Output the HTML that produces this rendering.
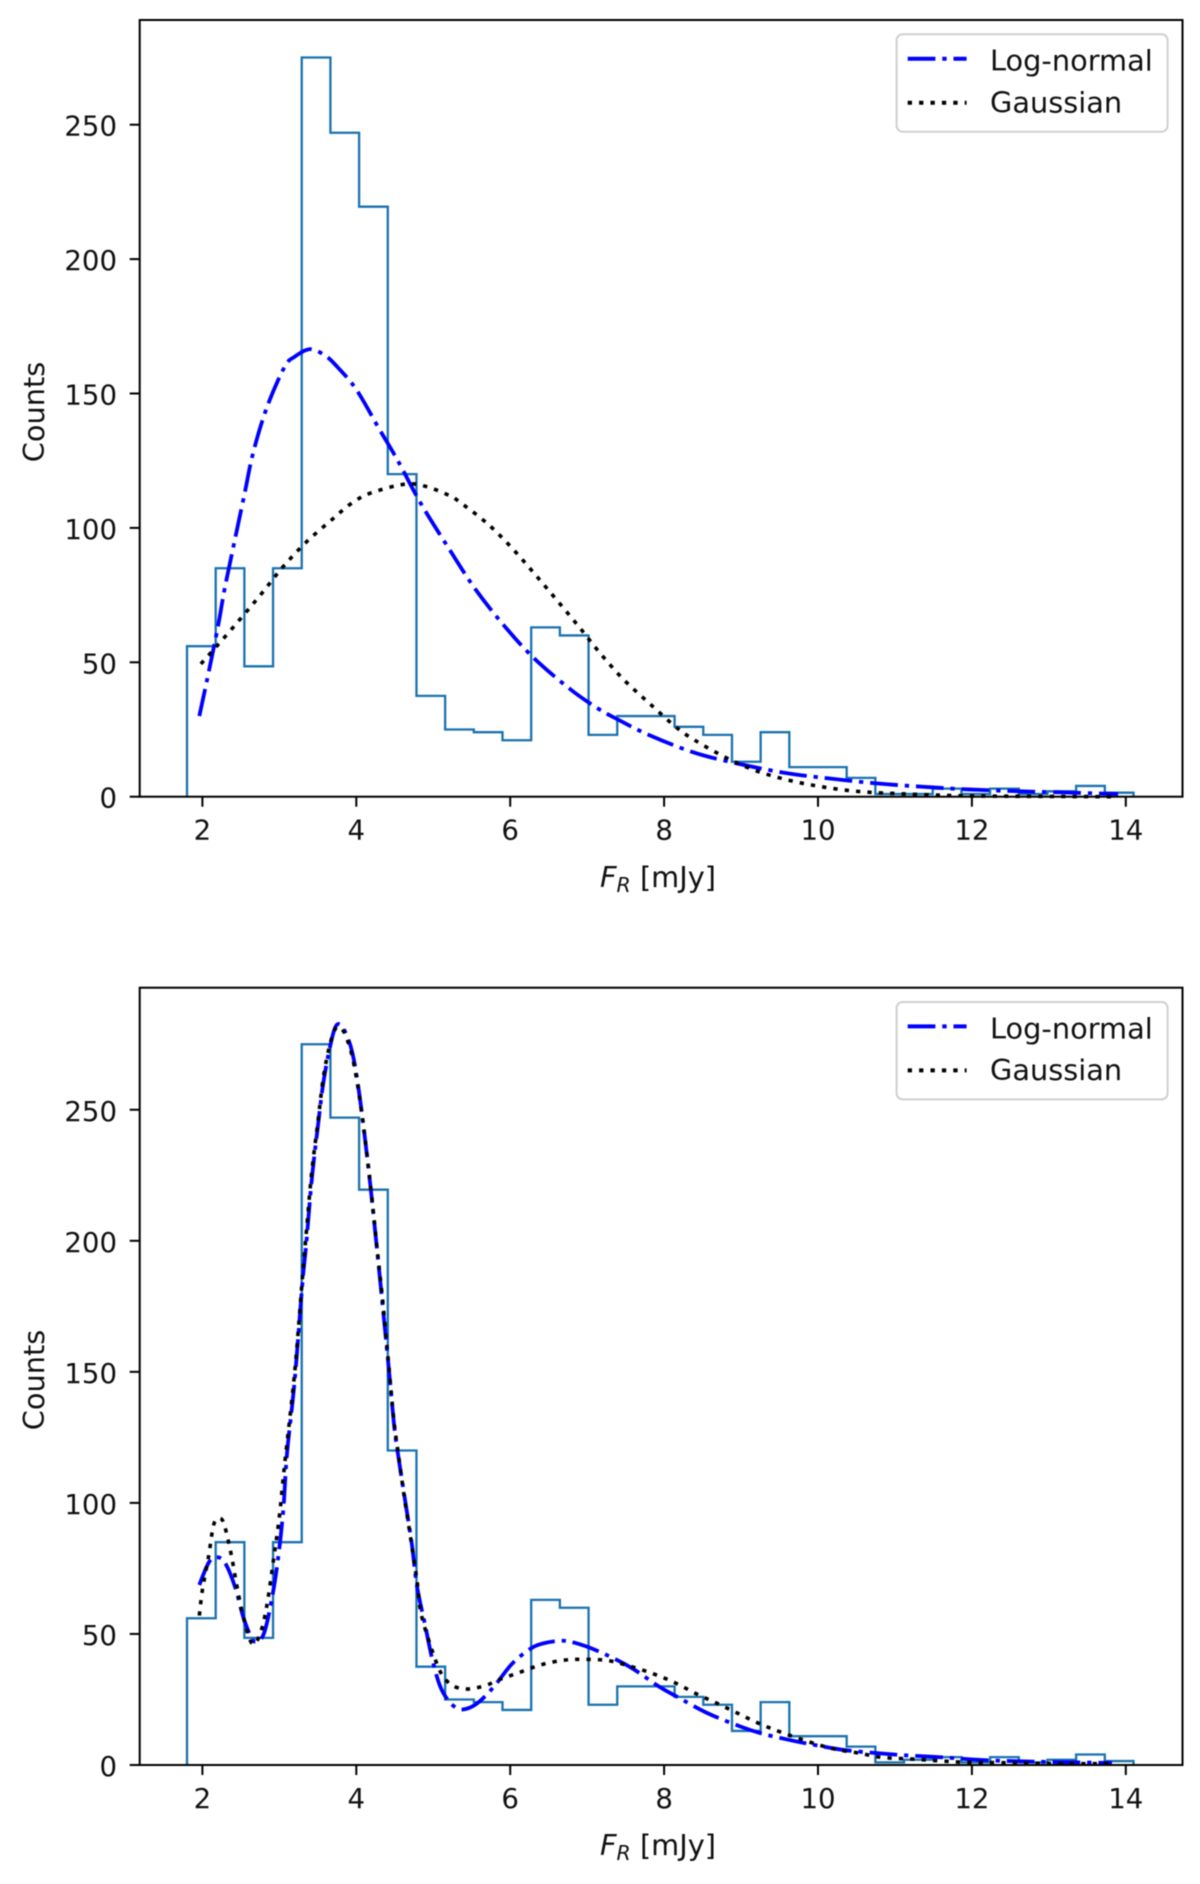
<!DOCTYPE html>
<html lang="en">
<head>
<meta charset="utf-8">
<title>Flux density histograms</title>
<style>
html,body{margin:0;padding:0;background:#fff;width:1200px;height:1884px;overflow:hidden}
svg{display:block;filter:blur(0.4px)}
text{font-family:"DejaVu Sans","Liberation Sans",sans-serif;font-size:27.6px;fill:#111}
.big{font-size:28.8px}
</style>
</head>
<body>
<svg id="figure" xmlns="http://www.w3.org/2000/svg" width="1200" height="1884" viewBox="0 0 1200 1884">
  <rect x="0" y="0" width="1200" height="1884" fill="#fff"/>
  <g id="panel-top"></g>
  <g id="panel-bottom"></g>

  <g>
    <text class="big" transform="translate(44,412) rotate(-90)" text-anchor="middle">Counts</text>
    <text class="big" x="658" y="887" text-anchor="middle"><tspan font-style="italic">F</tspan><tspan font-style="italic" font-size="20.5" dy="5">R</tspan><tspan dy="-5"> [mJy]</tspan></text>
  </g>
  <g>
    <text class="big" transform="translate(44,1380) rotate(-90)" text-anchor="middle">Counts</text>
    <text class="big" x="658" y="1855" text-anchor="middle"><tspan font-style="italic">F</tspan><tspan font-style="italic" font-size="20.5" dy="5">R</tspan><tspan dy="-5"> [mJy]</tspan></text>
  </g>

  <g>
    <rect x="896.6" y="34.3" width="271" height="97.4" rx="6" fill="#fff" stroke="#d0d0d0" stroke-width="2"/>
    <line x1="907.7" y1="58.7" x2="966.6" y2="58.7" stroke="#0000ff" stroke-width="4" stroke-dasharray="27.7 6.9 4.3 6.9"/>
    <text class="big" x="990" y="70.7">Log-normal</text>
    <line x1="907.7" y1="102.7" x2="966.6" y2="102.7" stroke="#000" stroke-width="4" stroke-dasharray="4.3 7.1"/>
    <text class="big" x="990" y="112.5">Gaussian</text>
  </g>
  <g>
    <rect x="896.6" y="1002" width="271" height="97.4" rx="6" fill="#fff" stroke="#d0d0d0" stroke-width="2"/>
    <line x1="907.7" y1="1026.4" x2="966.6" y2="1026.4" stroke="#0000ff" stroke-width="4" stroke-dasharray="27.7 6.9 4.3 6.9"/>
    <text class="big" x="990" y="1038.4">Log-normal</text>
    <line x1="907.7" y1="1070.4" x2="966.6" y2="1070.4" stroke="#000" stroke-width="4" stroke-dasharray="4.3 7.1"/>
    <text class="big" x="990" y="1080.2">Gaussian</text>
  </g>
</svg>
<script>
// ---- shared axis data ----
const xTickValues = [2, 4, 6, 8, 10, 12, 14];
const yTickValues = [0, 50, 100, 150, 200, 250];
const binFirstEdge = 1.8;
const binLastEdge = 14.1;

// ---- histogram counts ----
const topHistCounts = [56, 85, 48.5, 85, 275, 247, 219.5, 120, 37.5, 25, 24, 21, 63, 60, 23, 30, 30, 26, 23, 13, 24, 11, 11, 7, 1, 1, 3, 1, 3, 1, 2, 4, 1.5];
const bottomHistCounts = [56, 85, 48.5, 85, 275, 247, 219.5, 120, 37.5, 25, 24, 21, 63, 60, 23, 30, 30, 26, 23, 13, 24, 11, 11, 7, 1, 2, 3, 1, 3, 1, 2, 4, 1.5];

// ---- top panel fits ----
const topLogNormalFlux = [1.96, 2.06, 2.2, 2.29, 2.41, 2.55, 2.66, 2.84, 3.07, 3.2, 3.4, 3.6, 3.75, 4.0, 4.3, 4.54, 4.84, 5.21, 5.54, 5.91, 6.31, 6.78, 7.13, 7.38, 7.8, 8.36, 8.85, 9.54, 10.14, 10.74, 11.36, 11.96, 12.63, 13.17, 13.67, 13.9];
const topLogNormalCounts = [30, 43.4, 63, 77.5, 94, 113, 128, 145, 160, 163.7, 166.5, 164, 160, 151.5, 136.7, 125, 109, 92, 77.5, 64, 51.5, 40, 33, 29, 23, 16.7, 13, 9, 6.8, 5, 3.7, 2.7, 2, 1.6, 1.2, 1];
const topGaussianFlux = [1.98, 2.18, 2.48, 2.77, 3.05, 3.36, 3.7, 3.93, 4.19, 4.64, 4.92, 5.22, 5.34, 5.7, 6.02, 6.32, 6.61, 6.9, 7.18, 7.48, 7.81, 8.15, 8.4, 8.8, 9.19, 9.64, 10.09, 10.54, 10.99, 11.43, 12.13, 13.82];
const topGaussianCounts = [49.4, 55.8, 65.7, 75.6, 85.6, 95, 103.5, 109, 113, 116.3, 115.3, 111.9, 109.7, 101.7, 92.6, 82.8, 73, 63, 53, 43.4, 34.7, 26, 21, 14.6, 9.7, 6, 3.5, 1.9, 1.2, 0.7, 0.25, 0];

// ---- bottom panel fits ----
const bottomLogNormalFlux = [1.96, 2.09, 2.21, 2.31, 2.43, 2.53, 2.63, 2.7, 2.8, 2.9, 2.98, 3.05, 3.1, 3.2, 3.3, 3.35, 3.42, 3.5, 3.57, 3.65, 3.72, 3.78, 3.85, 3.95, 4.05, 4.17, 4.27, 4.34, 4.42, 4.49, 4.54, 4.62, 4.72, 4.79, 4.89, 4.99, 5.09, 5.19, 5.29, 5.39, 5.54, 5.69, 5.84, 6.03, 6.26, 6.43, 6.66, 6.83, 7.13, 7.55, 7.93, 8.17, 8.57, 9.0, 9.27, 9.59, 9.89, 10.34, 10.79, 11.13, 11.63, 12.13, 12.63, 13.12, 13.82];
const bottomLogNormalCounts = [68.7, 77.6, 79.2, 76.3, 67.4, 56.6, 49, 47, 50.2, 63, 78, 97, 119, 147, 184, 199, 223, 243.5, 260, 272.8, 281, 282.7, 280, 271.6, 253.7, 224.5, 196.5, 176, 152, 130, 119, 103.6, 84.6, 68, 54, 40, 30, 24.8, 22, 21.2, 22.9, 26.7, 31.8, 38.8, 44.3, 46.4, 47.4, 46.7, 43.6, 37.5, 30, 26, 19.7, 14.6, 12, 9.8, 8, 5.7, 4.5, 3.7, 2.9, 1.9, 1.4, 1.1, 0.8];
const bottomGaussianFlux = [1.96, 2.0, 2.08, 2.15, 2.24, 2.3, 2.38, 2.45, 2.53, 2.63, 2.7, 2.78, 2.85, 2.93, 3.0, 3.07, 3.2, 3.3, 3.35, 3.42, 3.5, 3.57, 3.65, 3.72, 3.78, 3.85, 3.95, 4.05, 4.17, 4.27, 4.34, 4.42, 4.49, 4.54, 4.62, 4.72, 4.79, 4.84, 4.97, 5.07, 5.14, 5.25, 5.4, 5.55, 5.7, 5.84, 6.11, 6.4, 6.7, 6.98, 7.28, 7.58, 7.87, 8.14, 8.41, 8.69, 8.96, 9.23, 9.52, 9.94, 10.23, 10.54, 10.83, 11.26, 11.86, 12.33, 12.88, 13.82];
const bottomGaussianCounts = [57, 66.8, 79.5, 92, 94, 90, 79.5, 68, 56.6, 47, 47, 52.8, 63, 79.5, 94.7, 115, 150, 186, 203, 226, 245, 262, 274, 280.5, 281.5, 279, 270, 253, 225, 197, 178, 153, 131, 120, 103, 84, 70, 58, 45, 37, 33.3, 30.3, 29, 29.4, 30.5, 32.4, 35.2, 38.2, 40, 40.3, 39.8, 37.5, 34.7, 31.4, 27.3, 23.5, 19.7, 15.9, 12.5, 8.3, 6, 4.5, 2.9, 2.2, 1.1, 0.9, 0.6, 0.5];

const NS = 'http://www.w3.org/2000/svg';
const AXIS_LEFT = 139.7;
const AXIS_RIGHT = 1182.5;

function scaleX(value) {
  return 202.4 + (value - 2) * 76.95;
}
function makeScaleY(zeroPixel, pixelsPerCount) {
  return function (value) {
    return zeroPixel - value * pixelsPerCount;
  };
}
function smoothPath(xs, ys, sx, sy) {
  const px = xs.map(sx);
  const py = ys.map(sy);
  let d = 'M' + px[0].toFixed(2) + ' ' + py[0].toFixed(2);
  for (let i = 0; i < px.length - 1; i++) {
    const a = Math.max(i - 1, 0);
    const b = Math.min(i + 2, px.length - 1);
    const c1x = px[i] + (px[i + 1] - px[a]) / 6;
    const c1y = py[i] + (py[i + 1] - py[a]) / 6;
    const c2x = px[i + 1] - (px[b] - px[i]) / 6;
    const c2y = py[i + 1] - (py[b] - py[i]) / 6;
    d += 'C' + c1x.toFixed(2) + ' ' + c1y.toFixed(2) + ' ' + c2x.toFixed(2) + ' ' + c2y.toFixed(2) + ' ' + px[i + 1].toFixed(2) + ' ' + py[i + 1].toFixed(2);
  }
  return d;
}
function histPath(counts, sx, sy) {
  const width = (binLastEdge - binFirstEdge) / counts.length;
  let d = 'M' + sx(binFirstEdge).toFixed(2) + ' ' + sy(0).toFixed(2);
  counts.forEach(function (count, i) {
    const left = sx(binFirstEdge + i * width).toFixed(2);
    const right = sx(binFirstEdge + (i + 1) * width).toFixed(2);
    const top = sy(count).toFixed(2);
    d += 'L' + left + ' ' + top + 'L' + right + ' ' + top;
  });
  d += 'L' + sx(binLastEdge).toFixed(2) + ' ' + sy(0).toFixed(2);
  return d;
}

function drawPanel(groupId, prefix, axisTop, axisBottom, pixelsPerCount, histCounts, lnX, lnY, gaX, gaY) {
  const group = document.getElementById(groupId);
  const sy = makeScaleY(axisBottom, pixelsPerCount);

  const hist = document.createElementNS(NS, 'path');
  
  
  hist.setAttribute('d', histPath(histCounts, scaleX, sy));
  hist.setAttribute('fill', 'none');
  hist.setAttribute('stroke', '#1a72b0');
  hist.setAttribute('stroke-width', '2.3');
  group.appendChild(hist);

  const logNormal = document.createElementNS(NS, 'path');
  
  
  logNormal.setAttribute('d', smoothPath(lnX, lnY, scaleX, sy));
  logNormal.setAttribute('fill', 'none');
  logNormal.setAttribute('stroke', '#0000ff');
  logNormal.setAttribute('stroke-width', '3.8');
  logNormal.setAttribute('stroke-dasharray', '27.7 6.9 4.3 6.9');
  group.appendChild(logNormal);

  const gaussian = document.createElementNS(NS, 'path');
  
  
  gaussian.setAttribute('d', smoothPath(gaX, gaY, scaleX, sy));
  gaussian.setAttribute('fill', 'none');
  gaussian.setAttribute('stroke', '#000');
  gaussian.setAttribute('stroke-width', '3.6');
  gaussian.setAttribute('stroke-dasharray', '4.3 7.1');
  group.appendChild(gaussian);

  const frame = document.createElementNS(NS, 'rect');
  
  
  frame.setAttribute('x', AXIS_LEFT);
  frame.setAttribute('y', axisTop);
  frame.setAttribute('width', AXIS_RIGHT - AXIS_LEFT);
  frame.setAttribute('height', axisBottom - axisTop);
  frame.setAttribute('fill', 'none');
  frame.setAttribute('stroke', '#000');
  frame.setAttribute('stroke-width', '2');
  group.appendChild(frame);

  xTickValues.forEach(function (value) {
    const tick = document.createElementNS(NS, 'line');
    
    
    tick.setAttribute('x1', scaleX(value));
    tick.setAttribute('x2', scaleX(value));
    tick.setAttribute('y1', axisBottom);
    tick.setAttribute('y2', axisBottom + 10);
    tick.setAttribute('stroke', '#000');
    tick.setAttribute('stroke-width', '2');
    group.appendChild(tick);

    const label = document.createElementNS(NS, 'text');
    
    
    label.setAttribute('x', scaleX(value));
    label.setAttribute('y', axisBottom + 43);
    label.setAttribute('text-anchor', 'middle');
    label.textContent = String(value);
    group.appendChild(label);
  });

  yTickValues.forEach(function (value) {
    const tick = document.createElementNS(NS, 'line');
    
    
    tick.setAttribute('x1', AXIS_LEFT - 10);
    tick.setAttribute('x2', AXIS_LEFT);
    tick.setAttribute('y1', sy(value));
    tick.setAttribute('y2', sy(value));
    tick.setAttribute('stroke', '#000');
    tick.setAttribute('stroke-width', '2');
    group.appendChild(tick);

    const label = document.createElementNS(NS, 'text');
    
    
    label.setAttribute('x', 117);
    label.setAttribute('y', sy(value) + 11);
    label.setAttribute('text-anchor', 'end');
    label.textContent = String(value);
    group.appendChild(label);
  });
}

drawPanel('panel-top', 'top', 20, 796.7, 2.688, topHistCounts, topLogNormalFlux, topLogNormalCounts, topGaussianFlux, topGaussianCounts);
drawPanel('panel-bottom', 'bottom', 987.7, 1765, 2.621, bottomHistCounts, bottomLogNormalFlux, bottomLogNormalCounts, bottomGaussianFlux, bottomGaussianCounts);
</script>
</body>
</html>
